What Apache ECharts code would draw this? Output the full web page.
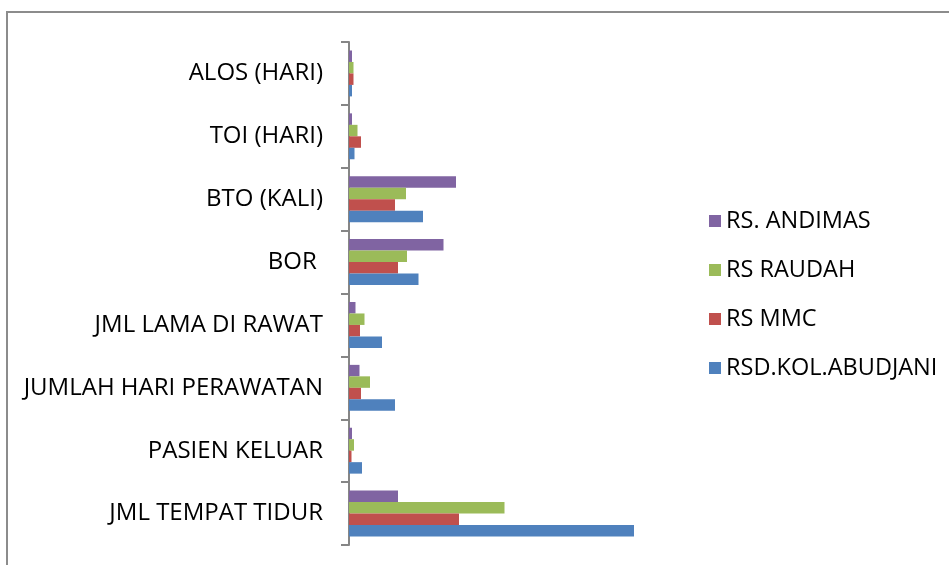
<!DOCTYPE html>
<html>
<head>
<meta charset="utf-8">
<script src="https://cdn.jsdelivr.net/npm/echarts@6/dist/echarts.min.js"></script>
<style>
  html, body { margin: 0; padding: 0; background: #fff; }
  #main { width: 949px; height: 565px; }
</style>
</head>
<body>
<div id="main"></div>
<script>
// categories from bottom to top (category axis starts at the bottom)
var categories = ['JML TEMPAT TIDUR', 'PASIEN KELUAR', 'JUMLAH HARI PERAWATAN', 'JML LAMA DI RAWAT',
    'BOR ', 'BTO (KALI)', 'TOI (HARI)', 'ALOS (HARI)'];

// no value axis in the picture, so values are bar lengths in relative units
var andimas = [49, 3, 10.5, 6.5, 94.5, 107, 3, 3];
var raudah = [155.5, 5, 21, 15.5, 58, 57, 8.5, 4.5];
var mmc = [110, 2.5, 12, 11, 49, 46, 12, 4.5];
var abudjani = [285, 13, 46, 33, 69.5, 74, 5.5, 3];

// first series is drawn on top of each group
var seriesNames = ['RS. ANDIMAS', 'RS RAUDAH', 'RS MMC', 'RSD.KOL.ABUDJANI'];
var colors = ['#8064a2', '#9bbb59', '#c0504d', '#4f81bd'];

var font = 'Open Sans';

var myChart = echarts.init(document.getElementById('main'));

var series = [andimas, raudah, mmc, abudjani].map(function(d, i) {
    return {
        name: seriesNames[i],
        type: 'bar',
        data: d,
        barGap: '0%',
        barCategoryGap: '27%',
        itemStyle: { color: colors[i] },
        silent: true
    };
});

var option = {
    animation: false,
    backgroundColor: '#ffffff',
    textStyle: { fontFamily: font },
    graphic: [{
        type: 'rect',
        shape: { x: 7, y: 12, width: 1100, height: 1100 },
        style: { fill: 'none', stroke: '#8c8c8c', lineWidth: 2 },
        silent: true
    }],
    legend: {
        orient: 'vertical',
        left: 704,
        top: 204,
        data: seriesNames,
        itemWidth: 12,
        itemHeight: 12,
        itemGap: 25,
        icon: 'rect',
        textStyle: {
            fontFamily: font,
            fontSize: 23.5,
            lineHeight: 24,
            color: '#000'
        }
    },
    grid: {
        left: 349,
        right: 300,
        top: 42,
        bottom: 20,
        containLabel: false
    },
    xAxis: {
        type: 'value',
        min: 0,
        max: 300,
        show: false,
        splitLine: { show: false }
    },
    yAxis: {
        type: 'category',
        data: categories,
        axisLine: { lineStyle: { color: '#868686', width: 2 } },
        axisTick: { show: true, length: 8, lineStyle: { color: '#868686', width: 2 } },
        axisLabel: {
            fontFamily: font,
            fontSize: 24,
            color: '#000',
            margin: 26
        }
    },
    series: series
};

myChart.setOption(option);
</script>
</body>
</html>
